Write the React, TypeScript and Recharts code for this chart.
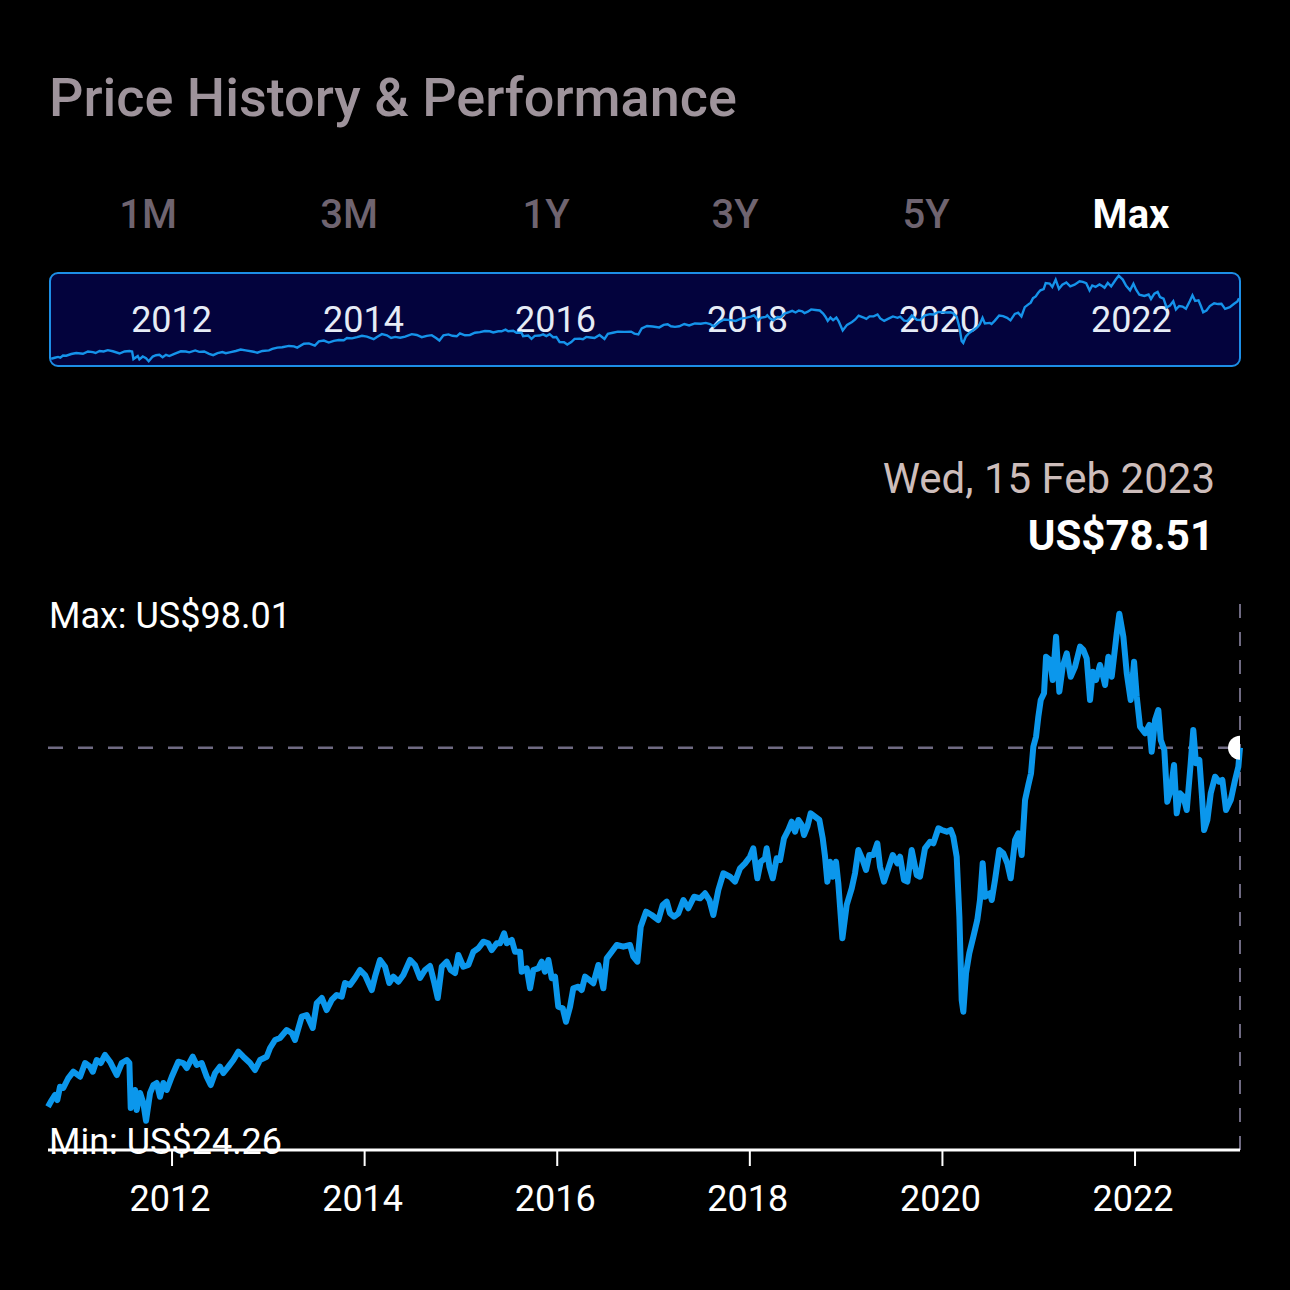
import React from 'react';
import { LineChart, Line, XAxis, YAxis, ReferenceLine, ReferenceDot } from 'recharts';

// decimal-year dates of each (roughly weekly) close
const dates = [
  2010.712, 2010.751, 2010.785, 2010.809, 2010.837, 2010.871, 2010.923, 2010.975, 2011.045, 2011.097,
  2011.148, 2011.177, 2011.218, 2011.260, 2011.304, 2011.356, 2011.426, 2011.478, 2011.530, 2011.557,
  2011.571, 2011.616, 2011.633, 2011.668, 2011.702, 2011.730, 2011.772, 2011.806, 2011.841, 2011.875,
  2011.910, 2011.945, 2011.997, 2012.065, 2012.117, 2012.153, 2012.215, 2012.256, 2012.308, 2012.360,
  2012.402, 2012.447, 2012.498, 2012.533, 2012.585, 2012.637, 2012.688, 2012.740, 2012.810, 2012.862,
  2012.914, 2012.983, 2013.018, 2013.070, 2013.121, 2013.191, 2013.243, 2013.277, 2013.347, 2013.399,
  2013.461, 2013.503, 2013.555, 2013.606, 2013.658, 2013.710, 2013.762, 2013.796, 2013.848, 2013.900,
  2013.952, 2014.004, 2014.074, 2014.108, 2014.160, 2014.212, 2014.256, 2014.298, 2014.350, 2014.402,
  2014.471, 2014.523, 2014.575, 2014.627, 2014.679, 2014.724, 2014.759, 2014.801, 2014.853, 2014.894,
  2014.939, 2014.973, 2015.025, 2015.077, 2015.129, 2015.181, 2015.233, 2015.284, 2015.320, 2015.372,
  2015.406, 2015.448, 2015.476, 2015.528, 2015.562, 2015.614, 2015.631, 2015.683, 2015.718, 2015.752,
  2015.804, 2015.839, 2015.873, 2015.908, 2015.943, 2015.977, 2016.011, 2016.057, 2016.091, 2016.133,
  2016.167, 2016.219, 2016.254, 2016.289, 2016.333, 2016.375, 2016.427, 2016.479, 2016.514, 2016.566,
  2016.618, 2016.686, 2016.756, 2016.790, 2016.832, 2016.867, 2016.922, 2016.981, 2017.050, 2017.095,
  2017.137, 2017.171, 2017.213, 2017.258, 2017.310, 2017.361, 2017.421, 2017.483, 2017.535, 2017.580,
  2017.621, 2017.673, 2017.725, 2017.794, 2017.846, 2017.898, 2017.950, 2018.002, 2018.036, 2018.078,
  2018.113, 2018.158, 2018.175, 2018.203, 2018.238, 2018.279, 2018.314, 2018.355, 2018.400, 2018.435,
  2018.470, 2018.504, 2018.539, 2018.563, 2018.597, 2018.632, 2018.677, 2018.722, 2018.757, 2018.781,
  2018.805, 2018.833, 2018.861, 2018.895, 2018.919, 2018.961, 2019.006, 2019.058, 2019.092, 2019.127,
  2019.172, 2019.207, 2019.241, 2019.283, 2019.324, 2019.352, 2019.393, 2019.438, 2019.484, 2019.532,
  2019.560, 2019.601, 2019.636, 2019.681, 2019.733, 2019.767, 2019.819, 2019.871, 2019.906, 2019.958,
  2019.993, 2020.045, 2020.086, 2020.113, 2020.148, 2020.176, 2020.200, 2020.217, 2020.245, 2020.279,
  2020.321, 2020.362, 2020.390, 2020.418, 2020.442, 2020.494, 2020.512, 2020.546, 2020.591, 2020.632,
  2020.674, 2020.709, 2020.754, 2020.788, 2020.823, 2020.858, 2020.892, 2020.920, 2020.944, 2020.972,
  2020.996, 2021.021, 2021.055, 2021.076, 2021.117, 2021.145, 2021.180, 2021.214, 2021.249, 2021.291,
  2021.332, 2021.377, 2021.429, 2021.463, 2021.498, 2021.533, 2021.561, 2021.595, 2021.636, 2021.665,
  2021.689, 2021.723, 2021.758, 2021.810, 2021.837, 2021.879, 2021.914, 2021.955, 2021.990, 2022.018,
  2022.052, 2022.104, 2022.148, 2022.173, 2022.208, 2022.242, 2022.267, 2022.304, 2022.335, 2022.371,
  2022.405, 2022.433, 2022.467, 2022.502, 2022.537, 2022.578, 2022.605, 2022.633, 2022.668, 2022.693,
  2022.717, 2022.751, 2022.786, 2022.831, 2022.872, 2022.907, 2022.945, 2022.994, 2023.039, 2023.073,
  2023.090,
];

// price in US$
const prices = [
  26.30, 27.27, 28.00, 27.27, 29.21, 29.02, 30.47, 31.39, 30.66, 32.65,
  32.12, 31.39, 33.09, 32.65, 33.82, 32.84, 30.91, 32.65, 33.09, 32.65,
  26.11, 28.73, 25.82, 28.29, 26.84, 24.26, 28.29, 29.45, 29.75, 27.75,
  29.75, 28.73, 30.66, 32.84, 32.65, 31.93, 33.57, 32.36, 32.65, 30.66,
  29.45, 31.20, 32.12, 31.20, 32.12, 33.09, 34.30, 33.57, 32.65, 31.64,
  33.09, 33.57, 34.84, 36.00, 36.29, 37.45, 37.02, 36.00, 39.39, 39.64,
  37.75, 41.38, 42.11, 40.36, 41.82, 42.55, 42.30, 44.29, 44.00, 45.02,
  46.18, 45.45, 43.27, 45.21, 47.64, 46.66, 44.29, 45.21, 44.48, 45.45,
  47.64, 46.91, 45.02, 46.18, 46.76, 44.29, 42.11, 46.66, 47.39, 46.18,
  45.75, 48.36, 46.66, 46.91, 48.84, 49.34, 50.30, 50.07, 49.09, 50.07,
  50.07, 51.52, 50.07, 50.55, 48.84, 48.84, 45.93, 46.43, 43.52, 46.18,
  46.43, 47.39, 45.93, 47.64, 44.97, 45.21, 40.84, 40.61, 38.66, 40.84,
  43.52, 43.75, 43.27, 45.21, 44.73, 44.25, 46.91, 43.52, 47.88, 48.84,
  49.82, 49.57, 49.82, 48.12, 47.39, 52.48, 54.66, 54.18, 53.45, 55.64,
  56.12, 54.43, 53.93, 54.43, 56.36, 55.16, 56.84, 56.61, 57.34, 56.36,
  54.18, 57.82, 60.25, 59.75, 59.03, 60.97, 61.70, 62.66, 63.88, 59.52,
  61.93, 62.43, 63.88, 61.21, 59.52, 62.43, 62.18, 65.34, 66.55, 67.75,
  66.30, 68.00, 67.27, 65.82, 67.02, 68.97, 68.48, 68.00, 65.34, 62.66,
  59.03, 61.93, 59.75, 61.93, 58.79, 50.79, 55.64, 58.07, 60.25, 63.64,
  62.18, 60.73, 62.91, 62.91, 64.61, 61.21, 59.03, 60.97, 62.91, 61.70,
  62.66, 59.27, 59.03, 63.64, 60.00, 59.75, 63.88, 64.84, 64.61, 66.79,
  66.55, 66.30, 66.55, 65.57, 62.66, 53.93, 41.82, 40.12, 45.70, 48.61,
  51.02, 53.45, 56.36, 61.70, 56.84, 57.34, 56.36, 59.27, 63.64, 63.16,
  61.70, 59.52, 65.09, 66.07, 62.91, 70.91, 73.09, 74.79, 78.66, 80.12,
  83.03, 85.45, 86.43, 91.75, 91.27, 88.36, 94.66, 86.66, 90.30, 92.25,
  88.84, 90.30, 93.21, 92.73, 91.52, 85.45, 89.57, 88.36, 90.55, 89.09,
  87.64, 91.75, 88.84, 95.16, 98.01, 94.66, 89.34, 85.45, 91.03, 85.93,
  81.57, 80.61, 81.82, 77.93, 82.55, 84.00, 79.64, 78.18, 70.66, 72.36,
  76.00, 68.97, 71.88, 71.39, 69.45, 76.25, 81.09, 76.25, 76.73, 71.88,
  66.55, 68.00, 71.88, 74.30, 73.57, 73.82, 69.45, 70.91, 73.82, 75.75,
  78.51,
];

const yearTicks = [2012, 2014, 2016, 2018, 2020, 2022];
const rangeTabs = ['1M', '3M', '1Y', '3Y', '5Y', 'Max'];
const selectedTab = 'Max';
const selectedDateLabel = 'Wed, 15 Feb 2023';
const currency = 'US$';
const priceDomain = [20, 100];
const navPriceDomain = [21, 99.5];

const data = dates.map((t, i) => ({ t, price: prices[i] }));
const lastDate = dates[dates.length - 1];
const lastPrice = prices[prices.length - 1];
const maxPrice = Math.max(...prices);
const minPrice = Math.min(...prices);

const FONT = 'Roboto, "Noto Sans", sans-serif';
const tabCenters = [148, 349, 546, 735, 926, 1131];

const makeNavLabel = (year: number) => (props: any) => {
  const vb = props.viewBox || {};
  const x = vb.x ?? 0;
  const top = vb.y ?? 0;
  return (
    <text x={x - 3} y={top + 58} textAnchor="middle" fill="#e6ecf6" fontSize={36} fontFamily={FONT}>
      {year}
    </text>
  );
};

export default function App() {
  return (
    <div style={{ position: 'fixed', left: 0, top: 0, width: 1290, height: 1290, background: '#000', fontFamily: FONT, overflow: 'hidden' }}>
      {/* navigator */}
      <div
        style={{
          position: 'absolute', left: 49, top: 272, width: 1192, height: 95,
          border: '2px solid #1d8ee6', borderRadius: 9, background: '#03033d',
          boxSizing: 'border-box', overflow: 'hidden',
        }}
      >
        <LineChart width={1188} height={91} data={data} margin={{ top: 0, right: 0, bottom: 0, left: 0 }}>
          <XAxis dataKey="t" type="number" domain={['dataMin', 'dataMax']} hide />
          <YAxis hide type="number" domain={navPriceDomain} />
          {yearTicks.map((yr) => (
            <ReferenceLine key={yr} x={yr} stroke="none" label={makeNavLabel(yr)} />
          ))}
          <Line dataKey="price" type="linear" stroke="#1593ea" strokeWidth={2.4} dot={false} isAnimationActive={false} />
        </LineChart>
      </div>

      {/* main chart */}
      <div style={{ position: 'absolute', left: 0, top: 580 }}>
        <LineChart width={1290} height={660} data={data} margin={{ top: 20, right: 50, bottom: 0, left: 48 }}>
          <XAxis
            dataKey="t" type="number" domain={['dataMin', 'dataMax']} ticks={yearTicks} interval={0} height={90}
            axisLine={{ stroke: '#ffffff', strokeWidth: 3 }}
            tickLine={{ stroke: '#ffffff', strokeWidth: 2 }}
            tickSize={16} tickMargin={19}
            tick={{ fill: '#ffffff', fontSize: 36, fontFamily: FONT, dx: -2 }}
          />
          <YAxis hide type="number" domain={priceDomain} />
          <ReferenceLine y={lastPrice} stroke="#6f6a82" strokeWidth={2.5} strokeDasharray="15 15" />
          <ReferenceLine x={lastDate} stroke="#6f6a82" strokeWidth={2} strokeDasharray="14 14" />
          <Line dataKey="price" type="linear" stroke="#0b97ec" strokeWidth={6} strokeLinejoin="round" dot={false} isAnimationActive={false} />
          <ReferenceDot x={lastDate} y={lastPrice} r={12} fill="#ffffff" stroke="none" ifOverflow="hidden" />
        </LineChart>
      </div>

      {/* texts */}
      <svg width={1290} height={1290} style={{ position: 'absolute', left: 0, top: 0, pointerEvents: 'none' }} fontFamily={FONT}>
        <text x={49} y={116} fontSize={54} fontWeight={500} fill="#9e939b">Price History &amp; Performance</text>
        {rangeTabs.map((t, i) => (
          <text
            key={t} x={tabCenters[i]} y={228} textAnchor="middle" fontSize={40}
            fontWeight={t === selectedTab ? 700 : 500}
            fill={t === selectedTab ? '#ffffff' : '#6f6470'}
          >
            {t}
          </text>
        ))}
        <text x={1215} y={493} textAnchor="end" fontSize={42} fill="#cdbdbb">{selectedDateLabel}</text>
        <text x={1214} y={550} textAnchor="end" fontSize={42} fontWeight={700} fill="#ffffff">{`${currency}${lastPrice.toFixed(2)}`}</text>
        <text x={49} y={628} fontSize={36} fill="#ffffff">{`Max: ${currency}${maxPrice.toFixed(2)}`}</text>
        <text x={49} y={1154} fontSize={36} fill="#ffffff">{`Min: ${currency}${minPrice.toFixed(2)}`}</text>
      </svg>
    </div>
  );
}
